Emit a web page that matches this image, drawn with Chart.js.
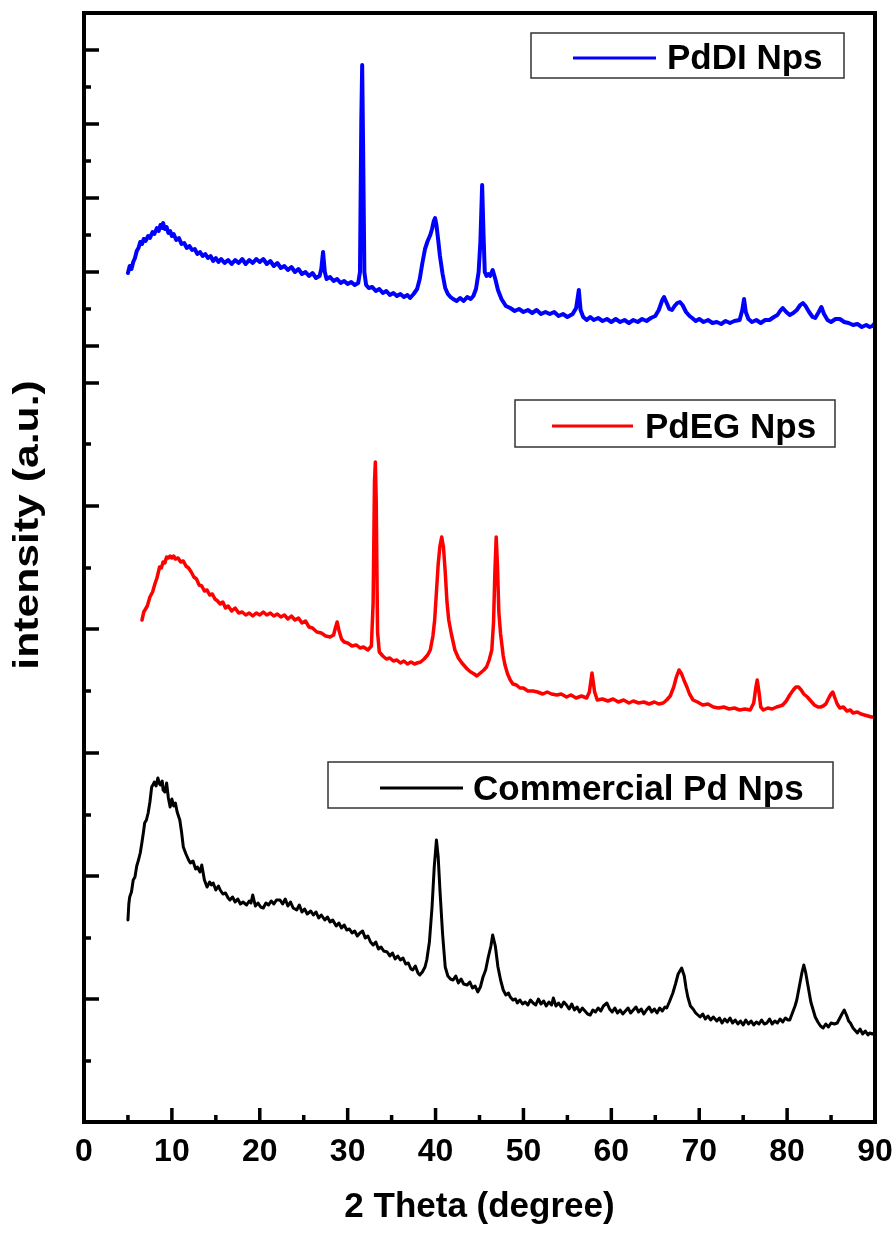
<!DOCTYPE html>
<html>
<head>
<meta charset="utf-8">
<script src="https://cdn.jsdelivr.net/npm/chart.js@4.4.1/dist/chart.umd.min.js"></script>
<style>
  body { margin: 0; background: #fff; }
</style>
</head>
<body>
<canvas id="xrdChart" width="896" height="1234"></canvas>
<script>
// 2 theta (deg) / intensity (a.u., stacked with offsets as in the figure)
const pdDI = [[5.0,84.9],[5.2,85.6],[5.4,85.3],[5.6,86.0],[5.8,86.4],[6.0,87.1],[6.2,87.4],[6.4,88.0],[6.6,87.8],[6.8,88.3],[7.0,88.1],[7.3,88.6],[7.5,88.4],[7.8,89.0],[8.0,88.8],[8.3,89.4],[8.5,89.1],[8.7,89.7],[8.9,89.4],[9.0,89.9],[9.2,89.3],[9.4,89.5],[9.6,88.9],[9.8,89.1],[10.0,88.6],[10.2,88.8],[10.5,88.2],[10.8,88.4],[11.1,87.8],[11.4,87.9],[11.7,87.4],[12.0,87.6],[12.3,87.2],[12.6,87.3],[12.9,86.8],[13.2,87.0],[13.5,86.6],[13.8,86.8],[14.1,86.4],[14.4,86.6],[14.7,86.1],[15.0,86.4],[15.3,86.0],[15.6,86.3],[16.0,85.9],[16.4,86.2],[16.8,85.8],[17.2,86.2],[17.6,85.9],[18.0,86.3],[18.4,85.8],[18.8,86.2],[19.2,85.9],[19.6,86.3],[20.0,86.0],[20.4,86.3],[20.8,85.8],[21.2,86.1],[21.6,85.6],[22.0,85.9],[22.4,85.4],[22.8,85.6],[23.2,85.2],[23.6,85.5],[24.0,85.0],[24.4,85.3],[24.8,84.8],[25.2,85.0],[25.6,84.6],[26.0,84.9],[26.4,84.4],[26.8,84.6],[27.0,85.3],[27.2,87.0],[27.4,85.0],[27.6,84.3],[28.0,84.5],[28.4,84.1],[28.8,84.3],[29.2,83.9],[29.6,84.1],[30.0,83.8],[30.4,84.0],[30.8,83.7],[31.2,83.9],[31.4,85.0],[31.55,100.0],[31.65,105.7],[31.75,98.0],[31.9,85.0],[32.1,83.7],[32.4,83.4],[32.8,83.5],[33.2,83.1],[33.6,83.3],[34.0,82.9],[34.4,83.1],[34.8,82.7],[35.2,82.9],[35.6,82.6],[36.0,82.8],[36.4,82.5],[36.8,82.7],[37.1,82.4],[37.5,82.8],[37.9,83.3],[38.2,84.3],[38.5,85.9],[38.8,87.3],[39.1,88.1],[39.4,88.7],[39.6,89.3],[39.8,90.1],[39.95,90.4],[40.1,89.7],[40.3,88.2],[40.5,86.6],[40.8,84.8],[41.1,83.4],[41.4,82.8],[41.7,82.5],[42.0,82.3],[42.4,82.1],[42.8,82.4],[43.2,82.1],[43.6,82.5],[44.0,82.3],[44.3,82.6],[44.6,83.3],[44.9,85.0],[45.1,88.0],[45.3,93.7],[45.45,89.0],[45.6,85.0],[45.8,84.6],[46.0,84.8],[46.2,84.6],[46.5,85.2],[46.8,84.3],[47.1,83.2],[47.5,82.3],[48.0,81.6],[48.5,81.4],[49.0,81.1],[49.5,81.3],[50.0,81.0],[50.5,81.2],[51.0,80.9],[51.5,81.2],[52.0,80.8],[52.5,81.0],[53.0,80.8],[53.5,81.0],[54.0,80.6],[54.5,80.8],[55.0,80.5],[55.6,80.8],[56.0,81.4],[56.3,83.2],[56.5,81.2],[56.8,80.5],[57.2,80.2],[57.6,80.5],[58.0,80.2],[58.5,80.4],[59.0,80.1],[59.5,80.3],[60.0,80.0],[60.5,80.3],[61.0,80.0],[61.5,80.2],[62.0,79.9],[62.5,80.2],[63.0,80.0],[63.5,80.3],[64.0,80.1],[64.5,80.4],[65.0,80.6],[65.4,81.2],[65.8,82.2],[66.0,82.5],[66.3,81.9],[66.6,81.3],[66.9,81.2],[67.2,81.6],[67.5,81.9],[67.8,82.0],[68.1,81.7],[68.5,81.0],[68.9,80.6],[69.2,80.4],[69.6,80.1],[70.0,80.3],[70.5,80.0],[71.0,80.2],[71.5,79.9],[72.0,80.0],[72.5,79.8],[73.0,80.1],[73.5,79.9],[74.0,80.1],[74.6,80.2],[74.9,81.2],[75.1,82.3],[75.3,81.0],[75.6,80.3],[76.0,80.0],[76.5,80.2],[77.0,79.9],[77.5,80.2],[78.0,80.2],[78.5,80.5],[78.9,80.7],[79.2,81.1],[79.5,81.4],[79.9,81.0],[80.3,80.7],[80.7,80.9],[81.1,81.2],[81.5,81.7],[81.8,81.9],[82.1,81.6],[82.5,81.0],[82.9,80.5],[83.2,80.4],[83.6,81.0],[83.9,81.5],[84.2,80.8],[84.6,80.2],[85.0,80.0],[85.5,80.3],[86.0,80.3],[86.5,80.0],[87.0,79.9],[87.5,79.7],[88.0,79.8],[88.5,79.5],[89.0,79.7],[89.4,79.5],[89.7,79.6],[90.0,79.9]];

const pdEG = [[6.6,50.2],[6.8,51.0],[7.0,51.3],[7.2,51.6],[7.5,52.5],[7.8,53.0],[8.1,53.9],[8.3,54.4],[8.6,55.5],[8.8,55.4],[9.0,56.0],[9.2,55.9],[9.4,56.5],[9.6,56.4],[9.8,56.6],[10.0,56.4],[10.2,56.6],[10.4,56.3],[10.7,56.4],[11.0,56.0],[11.3,56.1],[11.6,55.6],[11.9,55.4],[12.2,55.0],[12.5,54.5],[12.8,54.3],[13.1,53.7],[13.4,53.6],[13.7,53.1],[14.0,53.2],[14.3,52.7],[14.6,52.8],[14.9,52.3],[15.2,52.1],[15.5,51.8],[15.8,52.0],[16.1,51.4],[16.4,51.6],[16.8,51.1],[17.2,51.4],[17.6,50.9],[18.0,51.0],[18.4,50.7],[18.8,50.9],[19.2,50.6],[19.6,50.9],[20.0,50.7],[20.4,51.0],[20.8,50.7],[21.2,50.9],[21.6,50.6],[22.0,50.8],[22.4,50.5],[22.8,50.7],[23.2,50.3],[23.6,50.6],[24.0,50.2],[24.4,50.4],[24.8,49.9],[25.2,50.1],[25.6,49.5],[26.0,49.4],[26.5,49.0],[27.0,48.9],[27.5,48.6],[28.0,48.5],[28.4,48.7],[28.6,49.4],[28.8,50.0],[29.0,49.2],[29.3,48.3],[29.6,48.0],[30.0,47.9],[30.5,47.6],[31.0,47.7],[31.4,47.4],[31.8,47.5],[32.3,47.2],[32.7,47.6],[32.9,52.0],[33.05,64.0],[33.15,66.0],[33.25,62.0],[33.4,49.0],[33.6,47.0],[34.0,46.6],[34.4,46.3],[34.8,46.4],[35.2,46.1],[35.6,46.2],[36.0,45.9],[36.4,46.1],[36.8,45.8],[37.2,46.0],[37.6,45.8],[37.9,45.9],[38.3,46.0],[38.7,46.3],[39.1,46.7],[39.4,47.2],[39.7,48.6],[39.9,50.2],[40.1,53.0],[40.3,55.8],[40.5,57.6],[40.7,58.5],[40.9,57.5],[41.1,55.0],[41.3,52.0],[41.5,50.2],[41.8,48.8],[42.2,47.2],[42.6,46.4],[43.0,45.9],[43.6,45.3],[44.0,45.0],[44.4,44.8],[44.7,44.6],[45.1,44.9],[45.5,45.2],[45.8,45.5],[46.1,46.2],[46.4,47.2],[46.6,50.0],[46.75,55.0],[46.9,58.5],[47.05,55.5],[47.2,51.0],[47.4,48.8],[47.7,46.6],[47.9,45.7],[48.2,44.8],[48.5,44.2],[48.8,43.8],[49.2,43.7],[49.6,43.4],[50.0,43.4],[50.5,43.1],[51.1,43.1],[51.6,43.0],[52.2,42.8],[52.7,43.0],[53.2,42.8],[53.8,42.7],[54.3,42.8],[54.9,42.5],[55.4,42.7],[56.0,42.4],[56.6,42.6],[57.2,42.4],[57.5,43.0],[57.8,44.9],[58.1,43.0],[58.4,42.2],[59.0,42.3],[59.6,42.1],[60.2,42.3],[60.8,42.0],[61.4,42.2],[62.0,41.9],[62.5,42.1],[63.1,41.9],[63.7,42.0],[64.3,41.8],[64.9,42.0],[65.4,41.8],[65.9,41.9],[66.3,42.2],[66.7,42.6],[67.1,43.5],[67.4,44.5],[67.7,45.2],[68.0,44.8],[68.3,44.1],[68.6,43.5],[68.9,42.8],[69.3,42.2],[69.8,42.0],[70.4,41.7],[71.0,41.8],[71.6,41.5],[72.2,41.4],[72.8,41.5],[73.4,41.3],[74.0,41.4],[74.6,41.2],[75.2,41.3],[75.8,41.2],[76.2,41.9],[76.45,43.5],[76.6,44.2],[76.8,43.0],[77.0,41.5],[77.3,41.2],[77.8,41.4],[78.3,41.3],[78.8,41.5],[79.2,41.6],[79.5,41.7],[79.9,42.1],[80.3,42.7],[80.7,43.2],[81.0,43.5],[81.3,43.5],[81.6,43.2],[81.9,42.8],[82.3,42.5],[82.7,42.1],[83.1,41.7],[83.5,41.5],[83.8,41.5],[84.1,41.6],[84.4,41.8],[84.8,42.5],[85.0,42.8],[85.2,43.0],[85.4,42.5],[85.7,41.8],[86.0,41.4],[86.4,41.5],[86.8,41.1],[87.2,41.2],[87.5,40.9],[88.0,41.0],[88.4,40.8],[88.8,40.7],[89.2,40.6],[89.6,40.5],[90.0,40.5]];

const commercialPd = [[5.0,20.2],[5.1,21.8],[5.2,22.5],[5.4,23.0],[5.6,24.2],[5.8,24.5],[6.0,25.6],[6.2,26.2],[6.4,26.9],[6.6,28.0],[6.8,29.2],[6.9,29.9],[7.1,30.2],[7.3,30.9],[7.5,32.0],[7.7,33.5],[7.9,33.8],[8.0,34.0],[8.2,33.6],[8.4,34.4],[8.6,33.8],[8.7,33.7],[8.9,34.1],[9.0,33.2],[9.2,33.0],[9.4,33.9],[9.6,32.4],[9.8,31.5],[10.0,32.3],[10.2,31.6],[10.4,31.9],[10.6,31.0],[10.9,30.2],[11.1,29.0],[11.3,27.5],[11.6,26.8],[11.9,26.2],[12.1,25.9],[12.4,26.1],[12.7,25.3],[12.9,25.5],[13.2,25.0],[13.4,25.7],[13.7,24.2],[14.0,23.5],[14.3,24.0],[14.5,23.7],[14.7,23.9],[15.0,23.2],[15.3,23.6],[15.5,23.2],[15.8,22.8],[16.1,22.9],[16.4,22.4],[16.6,22.2],[16.9,22.5],[17.2,22.0],[17.5,22.3],[17.8,21.8],[18.1,22.0],[18.5,21.7],[18.8,22.1],[19.0,21.9],[19.2,22.7],[19.5,21.6],[19.8,21.9],[20.1,21.5],[20.4,21.4],[20.7,21.9],[21.0,21.7],[21.3,22.1],[21.6,21.8],[21.9,22.2],[22.3,22.2],[22.6,21.8],[22.9,22.3],[23.2,21.6],[23.5,22.0],[23.8,21.4],[24.2,21.2],[24.5,21.7],[24.8,21.0],[25.1,21.3],[25.4,20.8],[25.8,21.1],[26.1,20.7],[26.4,21.0],[26.7,20.4],[27.0,20.7],[27.4,20.2],[27.7,20.5],[28.0,20.0],[28.3,20.2],[28.7,19.6],[29.0,19.9],[29.3,19.4],[29.6,19.7],[29.9,19.2],[30.2,19.3],[30.5,18.9],[30.8,19.1],[31.1,18.6],[31.4,18.9],[31.7,19.1],[32.0,18.4],[32.3,18.6],[32.6,18.0],[32.9,17.7],[33.2,18.0],[33.5,17.3],[33.8,17.5],[34.1,17.1],[34.5,17.0],[34.8,16.6],[35.1,16.9],[35.4,16.3],[35.7,16.6],[36.0,16.2],[36.3,16.4],[36.6,15.8],[36.9,15.9],[37.2,15.3],[37.4,15.2],[37.7,15.6],[38.0,14.9],[38.2,14.7],[38.5,15.0],[38.8,15.5],[39.0,16.2],[39.3,18.0],[39.6,21.5],[39.85,25.5],[40.1,28.2],[40.3,26.5],[40.5,23.2],[40.8,18.8],[41.1,15.5],[41.4,14.6],[41.7,14.3],[42.0,14.2],[42.3,14.6],[42.6,13.9],[42.9,14.3],[43.2,13.8],[43.6,13.7],[43.9,14.0],[44.2,13.4],[44.5,13.6],[44.8,13.0],[45.1,13.5],[45.4,14.5],[45.7,15.2],[46.0,16.5],[46.3,17.6],[46.5,18.7],[46.8,17.6],[47.1,15.5],[47.4,14.2],[47.7,13.2],[48.0,12.7],[48.3,12.9],[48.5,12.5],[48.8,12.2],[49.1,12.3],[49.3,11.9],[49.6,12.2],[49.9,11.8],[50.2,12.0],[50.5,11.7],[50.8,12.2],[51.1,11.9],[51.4,11.7],[51.7,12.3],[52.0,11.8],[52.3,12.1],[52.6,11.6],[52.9,12.0],[53.2,11.7],[53.4,12.4],[53.7,11.6],[54.0,11.9],[54.3,11.5],[54.6,12.0],[54.9,11.7],[55.2,11.3],[55.5,11.8],[55.8,11.2],[56.1,11.5],[56.4,11.0],[56.7,11.4],[57.0,11.1],[57.3,10.8],[57.6,10.7],[57.9,11.2],[58.2,11.0],[58.5,11.4],[58.8,11.1],[59.1,11.6],[59.5,11.9],[59.8,11.3],[60.1,11.0],[60.4,11.4],[60.7,10.9],[61.0,11.2],[61.3,10.8],[61.6,11.1],[61.9,11.4],[62.2,10.9],[62.5,11.2],[62.8,11.5],[63.1,11.0],[63.4,11.3],[63.7,10.8],[64.0,11.2],[64.3,11.5],[64.6,11.0],[64.9,11.3],[65.2,10.9],[65.5,11.4],[65.8,11.1],[66.1,11.5],[66.3,11.4],[66.6,12.0],[67.0,12.9],[67.3,13.8],[67.6,14.8],[68.0,15.4],[68.3,14.6],[68.5,13.4],[68.7,12.5],[69.0,11.6],[69.3,11.3],[69.6,10.9],[70.1,10.5],[70.4,10.8],[70.7,10.3],[71.0,10.6],[71.3,10.2],[71.6,10.5],[72.0,10.1],[72.3,10.4],[72.6,9.9],[72.9,10.3],[73.2,10.0],[73.5,10.4],[73.8,9.9],[74.1,10.2],[74.4,9.8],[74.7,10.1],[75.0,9.7],[75.3,10.2],[75.6,9.8],[75.9,10.1],[76.2,9.7],[76.5,10.0],[76.8,9.8],[77.1,10.2],[77.4,9.8],[77.7,9.9],[78.0,10.3],[78.3,9.8],[78.6,10.1],[78.9,9.9],[79.2,10.3],[79.5,10.0],[79.8,10.4],[80.1,10.2],[80.3,10.2],[80.6,10.9],[80.9,11.6],[81.1,12.2],[81.4,13.6],[81.7,15.0],[81.9,15.7],[82.1,15.0],[82.4,13.5],[82.7,12.0],[83.0,11.1],[83.2,10.5],[83.5,10.0],[83.8,9.6],[84.1,9.4],[84.4,9.8],[84.7,9.5],[85.0,9.9],[85.4,9.8],[85.7,9.9],[86.0,10.4],[86.3,10.9],[86.5,11.2],[86.8,10.6],[87.0,10.1],[87.2,9.9],[87.5,9.4],[87.8,9.1],[88.0,8.9],[88.3,9.3],[88.6,8.8],[88.9,9.1],[89.2,8.7],[89.4,8.9],[89.7,8.8],[90.0,8.9]];

const seriesNames = ['PdDI Nps', 'PdEG Nps', 'Commercial Pd Nps'];
const seriesColors = ['#0000ff', '#ff0000', '#000000'];
const seriesWidths = [4, 3.5, 3];

// unlabelled y ticks (figure was stacked from panels, so spacing changes)
const yMajorTicks = [12.3, 24.6, 36.9, 49.3, 61.6, 73.9, 77.6, 85.0, 92.4, 99.8, 107.2];
const yMinorTicks = [6.1, 18.4, 30.7, 43.1, 55.4, 67.8, 81.3, 88.7, 96.1, 103.5];
const xMinorTicks = [5, 15, 25, 35, 45, 55, 65, 75, 85];

const FONT = '"Liberation Sans", Arial, sans-serif';

// frame, inward ticks, y title
const framePlugin = {
    id: 'frame',
    afterDraw(chart) {
        const { ctx, chartArea: a, scales: { x, y } } = chart;
        ctx.save();
        ctx.strokeStyle = '#000';
        ctx.lineWidth = 3.5;
        ctx.lineCap = 'butt';
        ctx.beginPath();
        x.ticks.forEach(t => {
            const px = x.getPixelForValue(t.value);
            ctx.moveTo(px, a.bottom); ctx.lineTo(px, a.bottom - 14);
        });
        xMinorTicks.forEach(v => {
            const px = x.getPixelForValue(v);
            ctx.moveTo(px, a.bottom); ctx.lineTo(px, a.bottom - 7);
        });
        yMajorTicks.forEach(v => {
            const py = y.getPixelForValue(v);
            ctx.moveTo(a.left, py); ctx.lineTo(a.left + 15, py);
        });
        yMinorTicks.forEach(v => {
            const py = y.getPixelForValue(v);
            ctx.moveTo(a.left, py); ctx.lineTo(a.left + 7, py);
        });
        ctx.stroke();

        ctx.lineWidth = 4;
        ctx.strokeRect(a.left, a.top, a.right - a.left, a.bottom - a.top);

        // y axis title, stretched along its length like the original
        ctx.translate(28, 525);
        ctx.rotate(-Math.PI / 2);
        ctx.scale(1.22, 1);
        ctx.fillStyle = '#000';
        ctx.font = 'bold 35px ' + FONT;
        ctx.textAlign = 'center';
        ctx.textBaseline = 'middle';
        ctx.fillText('intensity (a.u.)', 0, 0);
        ctx.restore();
    }
};

// one boxed legend per curve
const legendBoxes = [
    { box: [531, 33, 844, 78], line: [573, 656, 58], text: [667, 69] },
    { box: [515, 400, 835, 447], line: [552, 633, 426], text: [645, 438] },
    { box: [328, 762, 833, 808], line: [380, 463, 788], text: [473, 800] }
];

const legendPlugin = {
    id: 'boxLegends',
    afterDraw(chart) {
        const ctx = chart.ctx;
        ctx.save();
        legendBoxes.forEach((lg, i) => {
            const [x1, y1, x2, y2] = lg.box;
            ctx.fillStyle = '#fff';
            ctx.fillRect(x1, y1, x2 - x1, y2 - y1);
            ctx.strokeStyle = '#333';
            ctx.lineWidth = 1.5;
            ctx.strokeRect(x1, y1, x2 - x1, y2 - y1);
            ctx.strokeStyle = seriesColors[i];
            ctx.lineWidth = 3;
            ctx.beginPath();
            ctx.moveTo(lg.line[0], lg.line[2]);
            ctx.lineTo(lg.line[1], lg.line[2]);
            ctx.stroke();
            ctx.fillStyle = '#000';
            ctx.font = 'bold 35px ' + FONT;
            ctx.textAlign = 'left';
            ctx.textBaseline = 'alphabetic';
            ctx.fillText(seriesNames[i], lg.text[0], lg.text[1]);
        });
        ctx.restore();
    }
};

function makeDataset(points, i) {
    return {
        label: seriesNames[i],
        data: points.map(p => ({ x: p[0], y: p[1] })),
        borderColor: seriesColors[i],
        borderWidth: seriesWidths[i],
        borderJoinStyle: 'round',
        borderCapStyle: 'round',
        pointRadius: 0,
        tension: 0,
        fill: false
    };
}

const ctx = document.getElementById('xrdChart').getContext('2d');
new Chart(ctx, {
    type: 'line',
    data: {
        datasets: [makeDataset(pdDI, 0), makeDataset(pdEG, 1), makeDataset(commercialPd, 2)]
    },
    options: {
        responsive: false,
        animation: false,
        devicePixelRatio: 1,
        layout: { padding: { top: 13, right: 21, left: 0, bottom: 0 } },
        plugins: {
            legend: { display: false },
            tooltip: { enabled: false }
        },
        scales: {
            x: {
                type: 'linear',
                min: 0,
                max: 90,
                grid: { display: false },
                border: { display: false },
                ticks: {
                    stepSize: 10,
                    autoSkip: false,
                    maxRotation: 0,
                    padding: 3,
                    color: '#000',
                    font: { family: FONT, size: 32, weight: 'bold' }
                },
                title: {
                    display: true,
                    text: '2 Theta (degree)',
                    color: '#000',
                    font: { family: FONT, size: 35, weight: 'bold' },
                    padding: { top: 0, bottom: 6 }
                },
                afterFit(scale) { scale.height = 112; }
            },
            y: {
                min: 0,
                max: 110.9,
                grid: { display: false },
                border: { display: false },
                ticks: { display: false },
                afterFit(scale) { scale.width = 84; }
            }
        }
    },
    plugins: [framePlugin, legendPlugin]
});
</script>
</body>
</html>
